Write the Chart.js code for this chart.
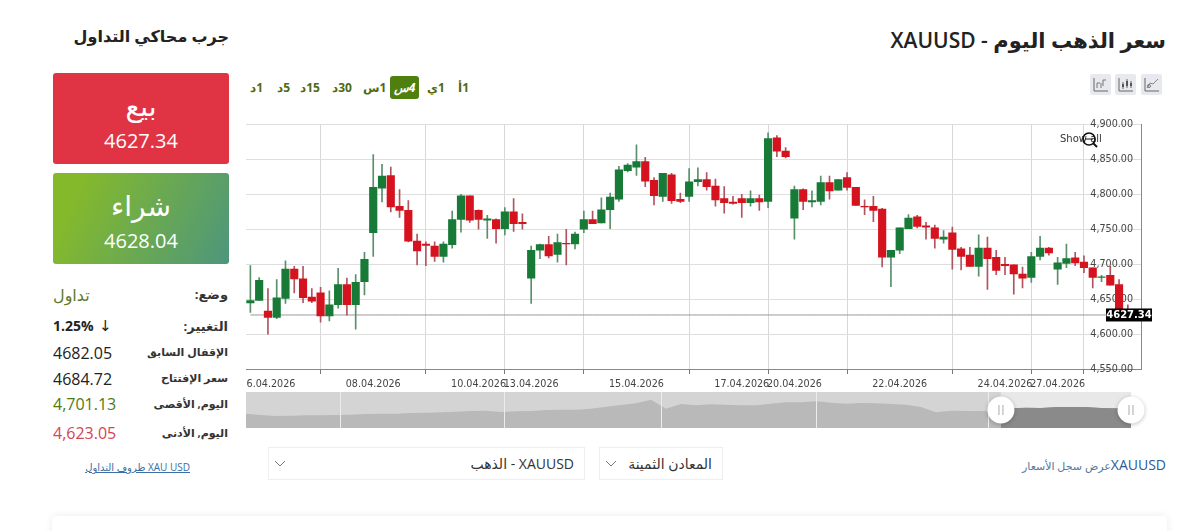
<!DOCTYPE html>
<html lang="ar">
<head>
<meta charset="utf-8">
<title>XAUUSD</title>
<script src="https://cdn.jsdelivr.net/npm/chart.js@4/dist/chart.umd.min.js"></script>
<style>
html, body { margin: 0; padding: 0; background: #fff; width: 1200px; height: 531px; overflow: hidden; }
body { font-family: "Open Sans", "DejaVu Sans", sans-serif; color: #222; position: relative; }
.abs { position: absolute; white-space: nowrap; line-height: 1; }
.rtl { direction: rtl; }
.box { position: absolute; left: 53px; width: 176px; height: 91px; border-radius: 3px; color: #fff; text-align: center; }
.box .act { position: absolute; left: 0; right: 0; font-size: 28px; line-height: 1; }
.box .num { position: absolute; left: 0; right: 0; font-size: 20px; line-height: 1; font-family: "Open Sans", sans-serif; }
.lbl { right: 972px; font-size: 11px; font-weight: 700; color: #333; direction: rtl; }
.val { left: 53px; font-size: 16px; color: #222; }
.tf { top: 82px; font-size: 12px; font-weight: 700; color: #4f6a10; direction: rtl; }
.tf-on { position: absolute; left: 390px; top: 76px; width: 29px; height: 23px; border-radius: 3px; background: #4f7f0f; color: #fff; font-size: 12px; font-weight: 700; font-style: italic; text-align: center; line-height: 23px; direction: rtl; }
.icon { position: absolute; top: 74px; width: 21px; height: 21px; background: #e8e9ee; border-radius: 2px; }
.select { position: absolute; top: 447px; height: 31px; border: 1px solid #eee; box-sizing: content-box; font-size: 14px; color: #333; direction: rtl; line-height: 31px; }
.select span { position: absolute; right: 10px; white-space: nowrap; }
.select svg { position: absolute; left: 5px; top: 12px; }
canvas { position: absolute; display: block; }
</style>
</head>
<body>

<div class="abs rtl" style="right:34px;top:30px;font-size:21px;font-weight:600;color:#222">سعر الذهب اليوم - XAUUSD</div>
<div class="abs rtl" style="right:971px;top:28px;font-size:16px;font-weight:700;color:#222">جرب محاكي التداول</div>

<div class="box" style="top:73px;background:#e03445">
  <div class="act" style="top:18px">بيع</div>
  <div class="num" style="top:58px">4627.34</div>
</div>
<div class="box" style="top:173px;background:linear-gradient(115deg,#84b92c 15%,#4d967c 100%)">
  <div class="act" style="top:18px">شراء</div>
  <div class="num" style="top:58px">4628.04</div>
</div>

<div class="abs lbl" style="top:288px;font-size:13px">وضع:</div>
<div class="abs val" style="top:287px;color:#5f7a2a">تداول</div>
<div class="abs lbl" style="top:320px;font-size:13px">التغيير:</div>
<div class="abs val" style="top:319px;font-size:14px;font-weight:700">1.25%</div>
<div class="abs val" style="top:318px;left:99px;font-size:15px">↓</div>
<div class="abs lbl" style="top:346px">الإقفال السابق</div>
<div class="abs val" style="top:345px">4682.05</div>
<div class="abs lbl" style="top:372px">سعر الإفتتاح</div>
<div class="abs val" style="top:371px">4684.72</div>
<div class="abs lbl" style="top:398px">اليوم, الأقصى</div>
<div class="abs val" style="top:396px;color:#4f7a12">4,701.13</div>
<div class="abs lbl" style="top:427px">اليوم, الأدنى</div>
<div class="abs val" style="top:425px;color:#d64550">4,623.05</div>
<div class="abs rtl" style="right:1010px;top:462px;font-size:10px;color:#3a6ea5;text-decoration:underline">XAU USD ظروف التداول</div>

<div class="abs tf" style="left:250px">1د</div>
<div class="abs tf" style="left:277px">5د</div>
<div class="abs tf" style="left:300px">15د</div>
<div class="abs tf" style="left:332px">30د</div>
<div class="abs tf" style="left:363px">1س</div>
<div class="tf-on">4س</div>
<div class="abs tf" style="left:427px">1ي</div>
<div class="abs tf" style="left:458px">1أ</div>

<div class="icon" style="left:1090px"><svg width="21" height="21"><path d="M4 4V17H18" fill="none" stroke="#666"/><path d="M7 14V9H10M11 9V14M13 12V6H16" fill="none" stroke="#777"/></svg></div>
<div class="icon" style="left:1115px"><svg width="21" height="21"><path d="M4 4V17H18" fill="none" stroke="#666"/><path d="M8 8V15M12 5V14M16 7V14" stroke="#666"/><path d="M7 10h2v3h-2zM11 7h2v5h-2zM15 9h2v3h-2z" fill="#555"/></svg></div>
<div class="icon" style="left:1141px"><svg width="21" height="21"><path d="M4 4V17H18" fill="none" stroke="#666"/><path d="M6 14L9 9L12 10L17 5" fill="none" stroke="#888"/><circle cx="8" cy="12" r="1.5" fill="none" stroke="#777"/></svg></div>

<canvas id="priceChart" style="left:246px;top:112px;width:912px;height:280px" width="912" height="280"></canvas>
<canvas id="rangeChart" style="left:246px;top:392px;width:910px;height:38px" width="910" height="38"></canvas>

<div class="abs" style="left:1060px;top:134px;font-family:'DejaVu Sans';font-size:10px;color:#333">Show all</div>
<svg class="abs" style="left:1080px;top:130px" width="22" height="22"><circle cx="9" cy="9" r="6" fill="none" stroke="#111" stroke-width="1.7"/><path d="M5 9H13" stroke="#111"/><path d="M13.5 13.5L17 17" stroke="#111" stroke-width="2"/></svg>

<div class="select" style="left:599px;width:122px"><span>المعادن الثمينة</span><svg width="12" height="8"><path d="M1 1L6 6L11 1" fill="none" stroke="#777"/></svg></div>
<div class="select" style="left:268px;width:315px"><span>XAUUSD - الذهب</span><svg width="12" height="8"><path d="M1 1L6 6L11 1" fill="none" stroke="#777"/></svg></div>
<div class="abs rtl" style="right:34px;top:458px;color:#2a5a9a;font-size:14px">XAUUSD<span style="font-size:11px;color:#5577a0">عرض سجل الأسعار</span></div>

<div style="position:absolute;left:52px;top:516px;width:1115px;height:40px;background:#fff;border-radius:4px;box-shadow:0 0 8px rgba(0,0,0,.08)"></div>

<script>
// 4h candles
const candleOpen = [4644.5,4648,4633,4624,4651,4693,4679,4653,4659,4626,4642,4671,4642,4675,4745,4809,4827,4783,4777,4733,4729,4726,4711,4728,4764,4798,4777,4763,4764,4751,4775,4760,4680,4720,4728,4714,4730,4729,4750,4764,4759,4778,4793,4834,4839,4847,4820,4797,4828,4793,4797,4818,4821,4812,4794,4789,4794,4788,4794,4790,4881,4862,4766,4807,4789,4790,4817,4806,4824,4810,4783,4783,4779,4710,4720,4751,4768,4755,4752,4736,4745,4722,4713,4697,4723,4710,4700,4699,4686,4681,4711,4723,4693,4701,4709,4703,4695,4681,4684,4671,4630];
const candleClose = [4648,4677,4624,4652,4693,4679,4652,4647,4626,4642,4671,4642,4674,4707,4810,4826,4782,4777,4733,4719,4727,4711,4729,4764,4798,4763,4764,4765,4751,4775,4758,4758,4720,4728,4712,4731,4729,4743,4764,4758,4778,4796,4835,4842,4847,4819,4798,4830,4791,4790,4818,4821,4811,4792,4788,4787,4788,4794,4789,4880,4862,4854,4807,4790,4791,4817,4805,4821,4810,4784,4782,4777,4710,4720,4752,4766,4754,4753,4737,4739,4721,4711,4697,4723,4708,4691,4698,4686,4680,4711,4723,4716,4702,4708,4702,4695,4681,4682,4670,4626,4627.34];
const candleHigh = [4698,4681,4665,4678,4705,4697,4697,4665,4667,4662,4694,4680,4685,4717,4857,4843,4839,4807,4791,4743,4732,4732,4732,4776,4800,4798,4778,4770,4765,4781,4794,4772,4726,4729,4740,4743,4750,4746,4776,4776,4795,4802,4840,4844,4871,4853,4824,4830,4830,4802,4837,4838,4831,4822,4811,4797,4800,4805,4799,4888,4884,4867,4812,4808,4805,4826,4826,4821,4831,4810,4792,4797,4780,4720,4752,4771,4770,4760,4756,4748,4753,4724,4724,4742,4739,4720,4710,4699,4696,4717,4740,4724,4710,4729,4717,4712,4695,4684,4697,4678,4642];
const candleLow = [4631,4648,4600,4622,4644,4659,4645,4645,4617,4619,4637,4627,4607,4656,4711,4789,4775,4767,4732,4699,4698,4704,4703,4723,4746,4760,4750,4737,4730,4742,4747,4750,4644,4708,4709,4703,4699,4722,4745,4758,4759,4751,4790,4832,4827,4811,4785,4790,4787,4788,4790,4812,4806,4783,4773,4786,4767,4783,4777,4781,4854,4852,4736,4778,4782,4785,4793,4806,4806,4784,4771,4761,4696,4668,4715,4751,4752,4736,4723,4730,4693,4692,4697,4683,4664,4685,4685,4657,4666,4674,4706,4713,4671,4695,4698,4688,4666,4675,4670,4624,4620];

const tickIndexes = [2,14,26,32,44,56,62,74,86,92];
const tickDates = ['06.04.2026','08.04.2026','10.04.2026','13.04.2026','15.04.2026','17.04.2026','20.04.2026','22.04.2026','24.04.2026','27.04.2026'];
const lastPrice = 4627.34;
const priceMin = 4550;
const priceMax = 4900;
const priceStep = 50;

// overview strip under the chart, every 2nd trading day
const rangeValues = [4150,4050,3975,4000,4025,4025,4050,4075,4125,4150,4150,4200,4225,4250,4300,4350,4375,4275,4325,4350,4425,4450,4450,4525,4675,4800,4925,5200,4525,4875,4775,4850,4825,4775,4775,4900,5000,5000,5075,4975,4900,4950,4925,4875,4825,4650,4250,4375,4350,4350,4300,4550,4600,4575,4650,4650,4650,4575,4550,4550];
const monthPositions = [6.27,17.2,27.7,38,49.5];
const monthLabels = ['12.2025','01.2026','02.2026','03.2026','04.2026'];
const selectedFrom = 50.33;

const candleLabels = [];
for (let i = 0; i < candleOpen.length + 1; i++) {
    const at = tickIndexes.indexOf(i);
    candleLabels.push(at >= 0 ? tickDates[at] : String(i));
}

const RED = '#d5131f';
const GREEN = '#177a37';
const isUp = candleOpen.map((open, i) => candleClose[i] >= open);

const lastPriceLabel = {
    id: 'lastPriceLabel',
    afterDraw(chart) {
        const y = chart.scales.y.getPixelForValue(lastPrice);
        const x = chart.chartArea.right - 35;
        const ctx = chart.ctx;
        ctx.save();
        ctx.fillStyle = '#000';
        ctx.fillRect(x, y - 6.5, 46, 13);
        ctx.fillStyle = '#fff';
        ctx.font = 'bold 10px "DejaVu Sans"';
        ctx.textAlign = 'center';
        ctx.textBaseline = 'middle';
        ctx.fillText(lastPrice.toFixed(2), x + 23, y + 0.5);
        ctx.restore();
    }
};

new Chart(document.getElementById('priceChart'), {
    type: 'bar',
    plugins: [lastPriceLabel],
    data: {
        labels: candleLabels,
        datasets: [
            {
                type: 'line',
                data: candleLabels.map(() => lastPrice),
                borderColor: '#999',
                borderWidth: 1,
                pointRadius: 0,
                order: 3
            },
            {
                data: candleOpen.map((_, i) => [candleLow[i], candleHigh[i]]),
                backgroundColor: isUp.map(up => up ? '#5a8f6b' : '#b0555f'),
                barThickness: 1,
                grouped: false,
                order: 2
            },
            {
                data: candleOpen.map((open, i) => [open, candleClose[i]]),
                backgroundColor: isUp.map(up => up ? GREEN : RED),
                barThickness: 7.5,
                grouped: false,
                order: 1
            }
        ]
    },
    options: {
        responsive: false,
        animation: false,
        events: [],
        layout: { padding: { top: 12.5, right: 17, left: 0, bottom: 0 } },
        plugins: { legend: { display: false }, tooltip: { enabled: false } },
        scales: {
            x: {
                afterBuildTicks(axis) {
                    axis.ticks = axis.ticks.filter(t => tickIndexes.includes(t.value));
                },
                afterFit(axis) {
                    axis.height = 23;
                    axis.paddingLeft = 0;
                    axis.paddingRight = 0;
                },
                grid: { color: '#d8d8d8', tickColor: '#777', tickLength: 5 },
                border: { color: '#888' },
                ticks: {
                    autoSkip: false,
                    maxRotation: 0,
                    padding: 5,
                    color: '#444',
                    font: { family: 'DejaVu Sans', size: 9.6 }
                }
            },
            y: {
                position: 'right',
                min: priceMin,
                max: priceMax,
                afterFit(axis) {
                    axis.width = 0;
                    axis.paddingTop = 0;
                    axis.paddingBottom = 0;
                },
                grid: { color: '#dedede', drawTicks: false },
                border: { color: '#888' },
                ticks: {
                    stepSize: priceStep,
                    mirror: true,
                    padding: -8,
                    color: '#444',
                    font: { family: 'DejaVu Sans', size: 9.6 },
                    callback: value => value.toLocaleString('en-US', { minimumFractionDigits: 2, maximumFractionDigits: 2 })
                }
            }
        }
    }
});

const rangeLook = {
    id: 'rangeLook',
    beforeDraw(chart) {
        const { left, right, top, bottom } = chart.chartArea;
        const from = chart.scales.x.getPixelForValue(selectedFrom);
        const ctx = chart.ctx;
        ctx.save();
        ctx.fillStyle = '#d4d4d4';
        ctx.fillRect(left, top, from - left, bottom - top);
        ctx.fillStyle = '#e8e8e8';
        ctx.fillRect(from, top, right - from, bottom - top);
        ctx.restore();
    },
    afterDraw(chart) {
        const { right, top, bottom } = chart.chartArea;
        const ctx = chart.ctx;
        const y = (top + bottom) / 2;
        [chart.scales.x.getPixelForValue(selectedFrom), right].forEach((x) => {
            ctx.save();
            ctx.shadowColor = 'rgba(0,0,0,.25)';
            ctx.shadowBlur = 4;
            ctx.shadowOffsetY = 1;
            ctx.fillStyle = '#fff';
            ctx.beginPath();
            ctx.arc(x, y, 13.5, 0, Math.PI * 2);
            ctx.fill();
            ctx.restore();
            ctx.fillStyle = '#aaa';
            ctx.fillRect(x - 2.5, y - 5, 1, 10);
            ctx.fillRect(x + 1.5, y - 5, 1, 10);
        });
    }
};

const selectedPoints = rangeValues
    .map((y, x) => ({ x, y }))
    .filter(p => p.x >= selectedFrom);
selectedPoints.unshift({ x: selectedFrom, y: rangeValues[51] });

new Chart(document.getElementById('rangeChart'), {
    type: 'line',
    plugins: [rangeLook],
    data: {
        datasets: [
            {
                data: rangeValues.map((y, x) => ({ x, y })),
                backgroundColor: '#b9b9b9',
                borderWidth: 0,
                pointRadius: 0,
                fill: 'origin',
                order: 2
            },
            {
                data: selectedPoints,
                backgroundColor: '#8a8a8a',
                borderWidth: 0,
                pointRadius: 0,
                fill: 'origin',
                order: 1
            }
        ]
    },
    options: {
        responsive: false,
        animation: false,
        events: [],
        layout: { padding: { top: 0, right: 25, left: 0, bottom: 2 } },
        plugins: { legend: { display: false }, tooltip: { enabled: false } },
        scales: {
            x: {
                type: 'linear',
                min: 0,
                max: rangeValues.length - 1,
                afterBuildTicks(axis) {
                    axis.ticks = monthPositions.map(value => ({ value }));
                },
                afterFit(axis) {
                    axis.height = 0;
                    axis.paddingLeft = 0;
                    axis.paddingRight = 0;
                },
                grid: { color: '#ececec', drawTicks: false, z: 1 },
                border: { display: false },
                ticks: {
                    autoSkip: false,
                    maxRotation: 0,
                    padding: -13,
                    z: 1,
                    color: '#f4f4f4',
                    font: { family: 'DejaVu Sans', size: 9.6 },
                    callback: value => monthLabels[monthPositions.indexOf(value)]
                }
            },
            y: {
                display: false,
                min: 3075,
                max: 5775
            }
        }
    }
});
</script>
</body>
</html>
